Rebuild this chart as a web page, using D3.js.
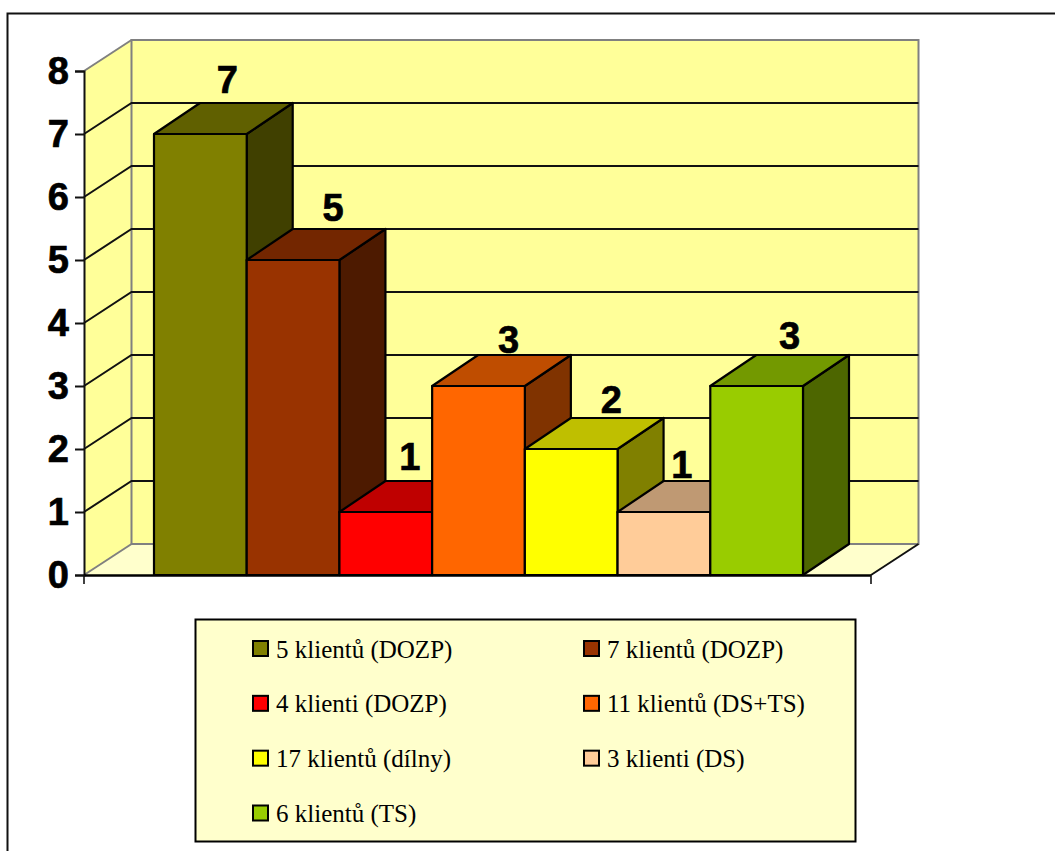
<!DOCTYPE html>
<html>
<head>
<meta charset="utf-8">
<script src="https://cdn.jsdelivr.net/npm/d3@7"></script>
<style>
  html, body { margin: 0; padding: 0; background: #fff; overflow: hidden; }
  svg { display: block; }
</style>
</head>
<body>
<script>
// Client groups and the number shown for each
const groups = ["5 klientů (DOZP)", "7 klientů (DOZP)", "4 klienti (DOZP)", "11 klientů (DS+TS)",
                "17 klientů (dílny)", "3 klienti (DS)", "6 klientů (TS)"];
const counts = [7, 5, 1, 3, 2, 1, 3];
const colours = ["#808000", "#993300", "#FF0000", "#FF6600", "#FFFF00", "#FFCC99", "#99CC00"];
const yTicks = [0, 1, 2, 3, 4, 5, 6, 7, 8];

// Hand-placed offsets of the value labels, relative to the bar's top centre
const labelDx = [4, 17, 1, 7, 17, -5, 10];
const labelDy = [-10, -8, -11, -2, -5, -3, -6];

const W = 1055, H = 851;
const depth = { x: 47.5, y: -31 };
const barDepth = { x: 46, y: -31 };
const floor = { left: 84, right: 871 };

const y = d3.scaleLinear().domain([0, 8]).range([575, 71]);
const x = d3.scaleBand().domain(groups).range([154, 803]);

const svg = d3.select("body").append("svg").attr("width", W).attr("height", H);
const poly = pts => pts.map(p => p.join(",")).join(" ");
const shade = (c, k) => { const r = d3.rgb(c); return d3.rgb(r.r * k, r.g * k, r.b * k).formatHex(); };

// Outer frame runs past the right and bottom edges of the page
svg.append("rect").attr("x", 7.5).attr("y", 13.5).attr("width", W + 40).attr("height", H + 40)
  .attr("fill", "#fff").attr("stroke", "#111").attr("stroke-width", 2);

const y0 = y(0), yMax = y(8);
const grey = "#808080";

// Walls and floor of the 3D box
const box = svg.append("g");
box.append("polygon")
  .attr("points", poly([[floor.left, y0], [floor.left + depth.x, y0 + depth.y],
                        [floor.right + depth.x, y0 + depth.y], [floor.right, y0]]))
  .attr("fill", "#FFFFCC").attr("stroke", "none");
box.append("polygon")
  .attr("points", poly([[floor.left, yMax], [floor.left + depth.x, yMax + depth.y],
                        [floor.left + depth.x, y0 + depth.y], [floor.left, y0]]))
  .attr("fill", "#FFFF99").attr("stroke", "none");
box.append("rect")
  .attr("x", floor.left + depth.x).attr("y", yMax + depth.y)
  .attr("width", floor.right - floor.left).attr("height", y0 - yMax)
  .attr("fill", "#FFFF99").attr("stroke", grey).attr("stroke-width", 2);

// Gridlines bend from the side wall onto the back wall
const grid = yTicks.filter(t => t > 0 && t < 8);
box.selectAll("polyline.grid").data(grid).join("polyline")
  .attr("class", "grid")
  .attr("points", t => poly([[floor.left, y(t)], [floor.left + depth.x, y(t) + depth.y],
                             [floor.right + depth.x, y(t) + depth.y]]))
  .attr("fill", "none").attr("stroke", "#111").attr("stroke-width", 2);

box.append("line")
  .attr("x1", floor.left).attr("y1", yMax)
  .attr("x2", floor.left + depth.x).attr("y2", yMax + depth.y)
  .attr("stroke", grey).attr("stroke-width", 2);
box.append("line")
  .attr("x1", floor.left).attr("y1", y0)
  .attr("x2", floor.left + depth.x).attr("y2", y0 + depth.y)
  .attr("stroke", grey).attr("stroke-width", 2);
box.append("line")
  .attr("x1", floor.right).attr("y1", y0)
  .attr("x2", floor.right + depth.x).attr("y2", y0 + depth.y)
  .attr("stroke", "#111").attr("stroke-width", 2);

// Value axis
const yAxis = svg.append("g")
  .attr("transform", `translate(${floor.left},0)`)
  .call(d3.axisLeft(y).tickValues(yTicks).tickSize(9).tickPadding(6).tickFormat(d3.format("d")));
yAxis.selectAll("line, path").attr("stroke", "#111").attr("stroke-width", 2);
yAxis.selectAll("text")
  .attr("font-family", "'Liberation Sans', Arial, sans-serif")
  .attr("font-weight", "bold").attr("font-size", 38).attr("fill", "#000")
  .attr("stroke", "#000").attr("stroke-width", 0.7);

// Bars are painted left to right so each one covers its neighbour's side face
const bars = svg.selectAll("g.bar").data(groups).join("g").attr("class", "bar");
const strokeBar = s => s.attr("stroke", "#000").attr("stroke-width", 2.2).attr("stroke-linejoin", "round");

bars.append("polygon")
  .attr("points", (g, i) => {
    const r = x(g) + x.bandwidth(), t = y(counts[i]);
    return poly([[r, t], [r + barDepth.x, t + barDepth.y], [r + barDepth.x, y0 + barDepth.y], [r, y0]]);
  })
  .attr("fill", (g, i) => shade(colours[i], 0.5)).call(strokeBar);
bars.append("polygon")
  .attr("points", (g, i) => {
    const l = x(g), r = l + x.bandwidth(), t = y(counts[i]);
    return poly([[l, t], [l + barDepth.x, t + barDepth.y], [r + barDepth.x, t + barDepth.y], [r, t]]);
  })
  .attr("fill", (g, i) => shade(colours[i], 0.75)).call(strokeBar);
bars.append("rect")
  .attr("x", g => x(g)).attr("width", x.bandwidth())
  .attr("y", (g, i) => y(counts[i])).attr("height", (g, i) => y0 - y(counts[i]))
  .attr("fill", (g, i) => colours[i]).call(strokeBar);

// Category axis: only the end ticks are drawn
const xAxis = svg.append("g");
xAxis.append("line").attr("x1", floor.left).attr("x2", floor.right).attr("y1", y0 + 0.5).attr("y2", y0 + 0.5)
  .attr("stroke", "#000").attr("stroke-width", 2.4);
xAxis.selectAll("line.end").data([floor.left, floor.right]).join("line")
  .attr("class", "end").attr("x1", d => d).attr("x2", d => d).attr("y1", y0).attr("y2", y0 + 9)
  .attr("stroke", "#111").attr("stroke-width", 1.6);

// Value labels
svg.selectAll("text.value").data(groups).join("text")
  .attr("class", "value")
  .attr("x", (g, i) => x(g) + x.bandwidth() / 2 + barDepth.x / 2 + labelDx[i])
  .attr("y", (g, i) => y(counts[i]) + barDepth.y + labelDy[i])
  .attr("text-anchor", "middle")
  .attr("font-family", "'Liberation Sans', Arial, sans-serif")
  .attr("font-weight", "bold").attr("font-size", 38).attr("fill", "#000")
  .attr("stroke", "#000").attr("stroke-width", 0.7)
  .text((g, i) => counts[i]);

// Legend, two columns filled row by row
const legend = svg.append("g");
legend.append("rect").attr("x", 195.5).attr("y", 619.5).attr("width", 660).attr("height", 222)
  .attr("fill", "#FFFFCC").attr("stroke", "#000").attr("stroke-width", 2);
const legendCol = d3.scalePoint().domain([0, 1]).range([253, 584]);
const legendRow = d3.scalePoint().domain([0, 1, 2, 3]).range([648.5, 813]);
const items = legend.selectAll("g.item").data(groups).join("g")
  .attr("class", "item")
  .attr("transform", (g, i) => `translate(${legendCol(i % 2)},${legendRow(Math.floor(i / 2))})`);
items.append("rect").attr("x", 0).attr("y", -7.5).attr("width", 15).attr("height", 15)
  .attr("fill", (g, i) => colours[i]).attr("stroke", "#000").attr("stroke-width", 2);
items.append("text").attr("x", 23).attr("y", 9)
  .attr("font-family", "'Liberation Serif', 'Times New Roman', serif")
  .attr("font-size", 25).attr("fill", "#000")
  .text(g => g);
</script>
</body>
</html>
